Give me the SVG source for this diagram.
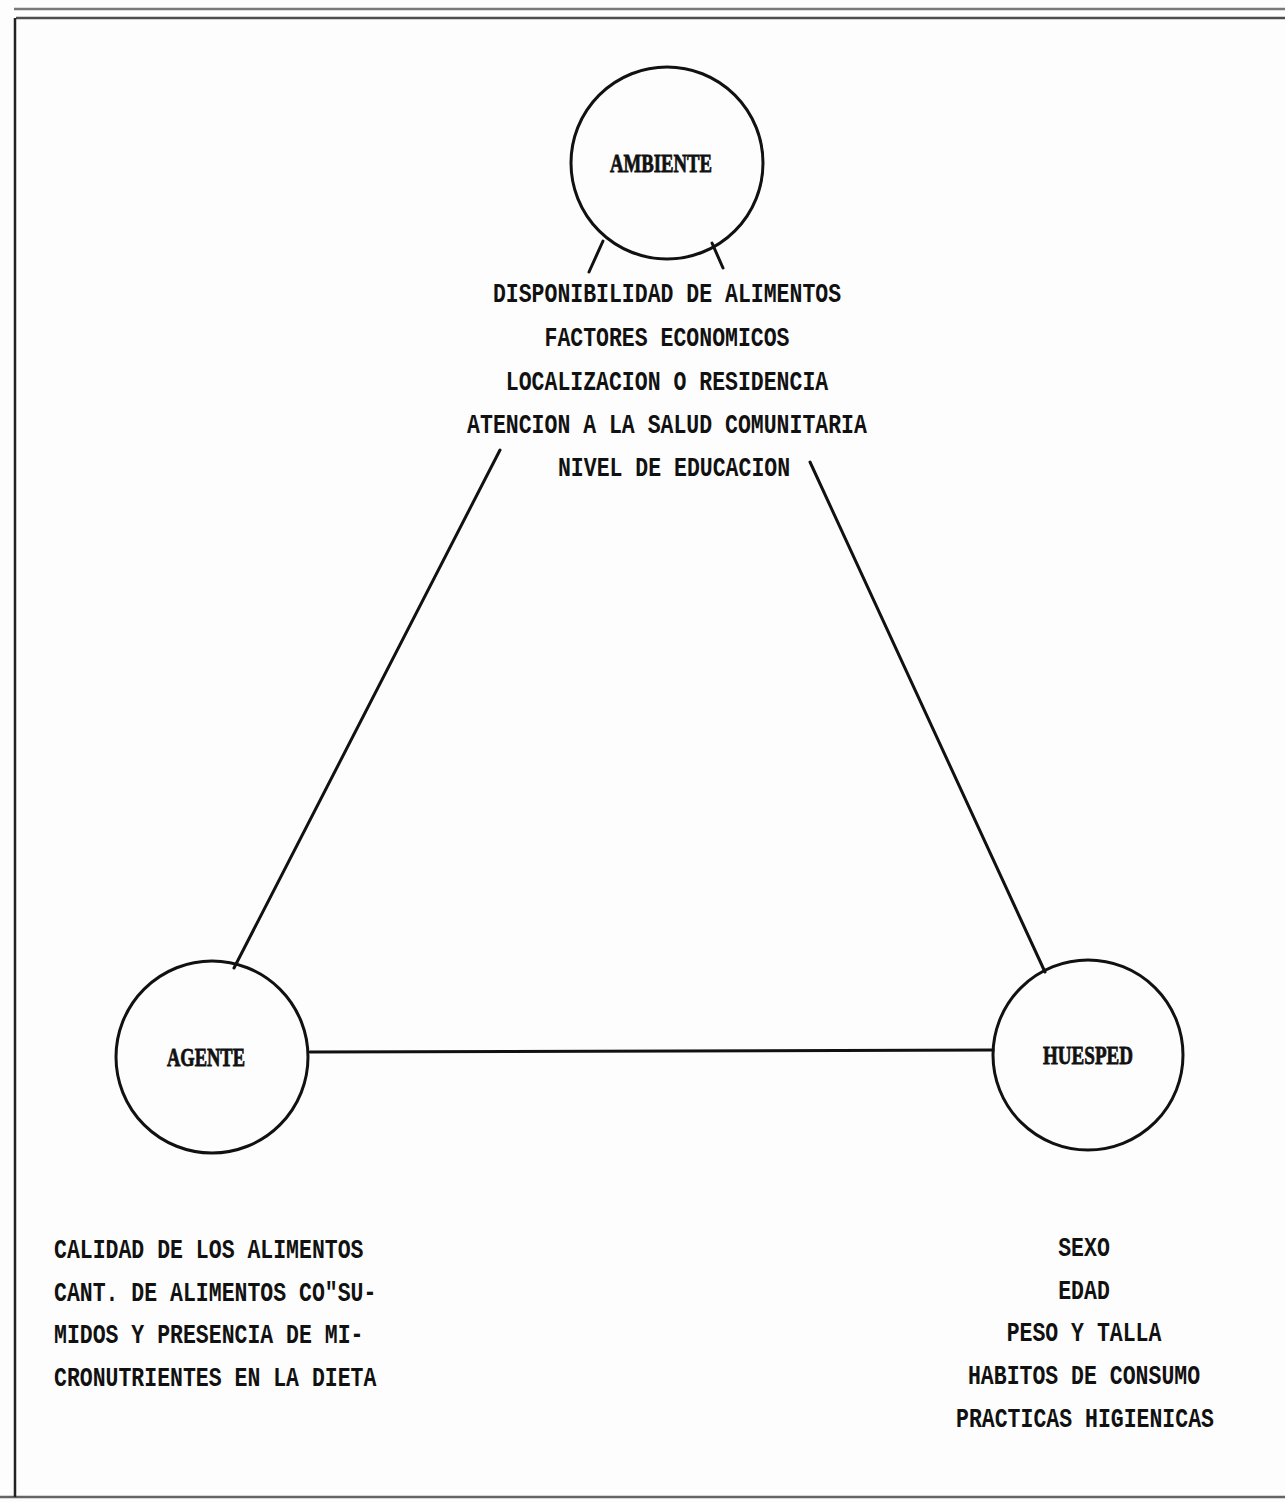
<svg xmlns="http://www.w3.org/2000/svg" width="1285" height="1502" viewBox="0 0 1285 1502">
<style>
.frame{stroke:#222;stroke-width:2.5;fill:none}
.node{fill:none;stroke:#111;stroke-width:3}
.conn{stroke:#111;stroke-width:3;fill:none;stroke-linecap:round}
.lbl{font-family:"Liberation Serif","DejaVu Serif",serif;font-weight:bold;font-size:26px;fill:#111;stroke:#111;stroke-width:0.8}
.txt{font-family:"Liberation Mono","DejaVu Sans Mono",monospace;font-size:21.5px;font-weight:bold;fill:#111}
</style>
<rect width="1285" height="1502" fill="#fdfdfd"/>
<g id="frame">
<line class="frame" x1="14" y1="9" x2="1285" y2="9" stroke-opacity="0.6"/>
<line class="frame" x1="16" y1="18" x2="1285" y2="18" stroke-opacity="0.8"/>
<line class="frame" x1="15" y1="18" x2="15" y2="1497"/>
<line class="frame" x1="0" y1="1497" x2="1285" y2="1497" stroke-opacity="0.7"/>
</g>
<g id="connectors">
<line class="conn" x1="603" y1="241" x2="589" y2="272"/>
<line class="conn" x1="712" y1="243" x2="723" y2="268"/>
<line class="conn" x1="500" y1="450" x2="234" y2="968"/>
<line class="conn" x1="810" y1="462" x2="1045" y2="972"/>
<line class="conn" x1="310" y1="1052" x2="993" y2="1050"/>
</g>
<g id="ambiente">
<circle class="node" cx="667" cy="163" r="96"/>
<text class="lbl" x="661" y="172" text-anchor="middle" textLength="102" lengthAdjust="spacingAndGlyphs">AMBIENTE</text>
</g>
<g id="agente">
<circle class="node" cx="212" cy="1057" r="96"/>
<text class="lbl" x="206" y="1066" text-anchor="middle" textLength="78" lengthAdjust="spacingAndGlyphs">AGENTE</text>
</g>
<g id="huesped">
<circle class="node" cx="1088" cy="1055" r="95"/>
<text class="lbl" x="1088" y="1064" text-anchor="middle" textLength="90" lengthAdjust="spacingAndGlyphs">HUESPED</text>
</g>
<g id="ambiente-factors" class="txt" text-anchor="middle">
<text transform="matrix(1 0 0 1.3 667 302)">DISPONIBILIDAD DE ALIMENTOS</text>
<text transform="matrix(1 0 0 1.3 667 346)">FACTORES ECONOMICOS</text>
<text transform="matrix(1 0 0 1.3 667 390)">LOCALIZACION O RESIDENCIA</text>
<text transform="matrix(1 0 0 1.3 667 433)">ATENCION A LA SALUD COMUNITARIA</text>
<text transform="matrix(1 0 0 1.3 674 476)">NIVEL DE EDUCACION</text>
</g>
<g id="agente-factors" class="txt">
<text transform="matrix(1 0 0 1.3 54 1258)">CALIDAD DE LOS ALIMENTOS</text>
<text transform="matrix(1 0 0 1.3 54 1301)">CANT. DE ALIMENTOS CO"SU-</text>
<text transform="matrix(1 0 0 1.3 54 1343)">MIDOS Y PRESENCIA DE MI-</text>
<text transform="matrix(1 0 0 1.3 54 1386)">CRONUTRIENTES EN LA DIETA</text>
</g>
<g id="huesped-factors" class="txt" text-anchor="middle">
<text transform="matrix(1 0 0 1.3 1084 1256)">SEXO</text>
<text transform="matrix(1 0 0 1.3 1084 1299)">EDAD</text>
<text transform="matrix(1 0 0 1.3 1084 1341)">PESO Y TALLA</text>
<text transform="matrix(1 0 0 1.3 1084 1384)">HABITOS DE CONSUMO</text>
<text transform="matrix(1 0 0 1.3 1085 1427)">PRACTICAS HIGIENICAS</text>
</g>
</svg>
